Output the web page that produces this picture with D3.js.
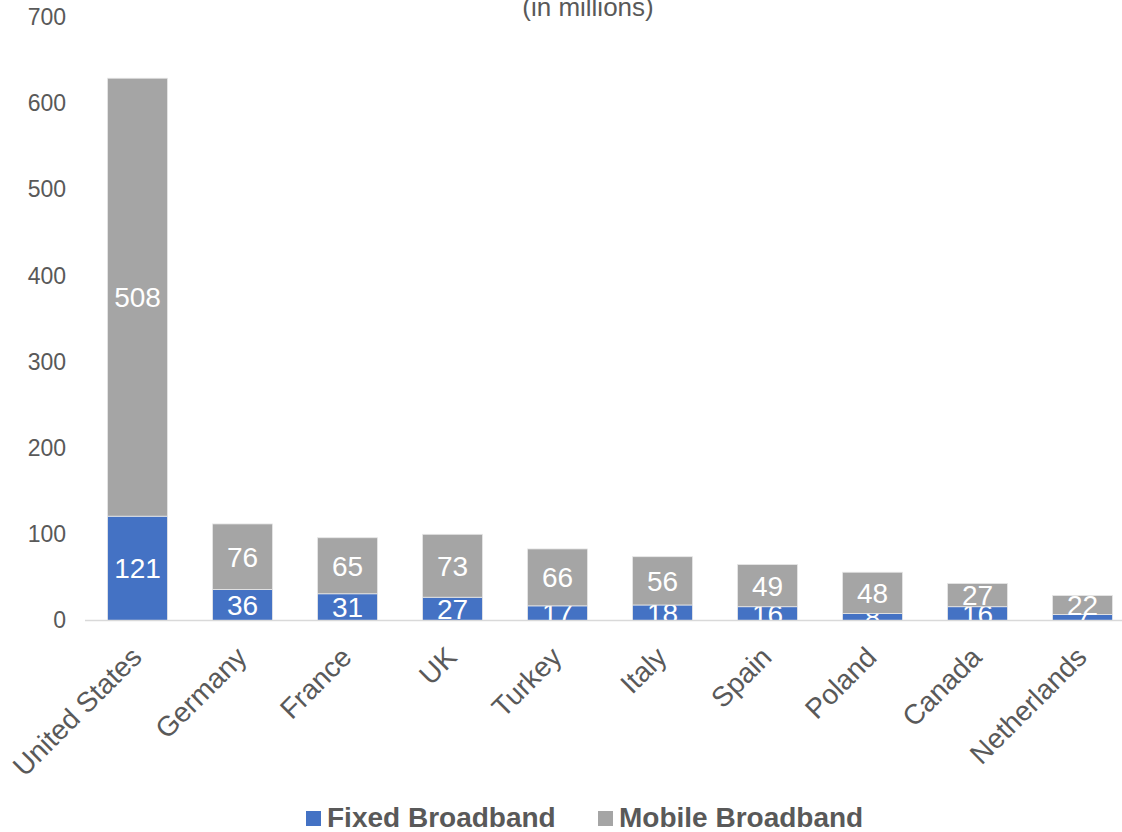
<!DOCTYPE html>
<html>
<head>
<meta charset="utf-8">
<script src="https://cdn.jsdelivr.net/npm/d3@7"></script>
<style>
  body { margin: 0; background: #fff; }
  text { font-family: "Liberation Sans", Arial, sans-serif; }
</style>
</head>
<body>
<script>
var countries = ['United States', 'Germany', 'France', 'UK', 'Turkey', 'Italy', 'Spain', 'Poland', 'Canada', 'Netherlands'];
var fixedBroadband = [121, 36, 31, 27, 17, 18, 16, 8, 16, 7];
var mobileBroadband = [508, 76, 65, 73, 66, 56, 49, 48, 27, 22];
var yTicks = [0, 100, 200, 300, 400, 500, 600, 700];
var seriesNames = ['Fixed Broadband', 'Mobile Broadband'];
var colors = ['#4472C4', '#A5A5A5'];

var width = 1122, height = 832;
var svg = d3.select('body').append('svg').attr('width', width).attr('height', height);

var x = d3.scaleBand().domain(countries).range([85, 1135]).paddingInner(0.4286).paddingOuter(0.2143);
var y = d3.scaleLinear().domain([0, 700]).range([620.5, 17]);

var rows = countries.map(function(c, i){ return {country: c, fixed: fixedBroadband[i], mobile: mobileBroadband[i]}; });
var stack = d3.stack().keys(['fixed', 'mobile'])(rows);

// title (partly cut off at top)
svg.append('text')
    .attr('x', 588).attr('y', 16)
    .attr('text-anchor', 'middle')
    .attr('font-size', 26)
    .attr('fill', '#595959')
    .text('(in millions)');

// y axis labels
var yAxis = svg.append('g').attr('transform', 'translate(66,0)')
    .call(d3.axisLeft(y).tickValues(yTicks).tickSize(0).tickPadding(0));
yAxis.select('.domain').remove();
yAxis.selectAll('text').attr('font-size', 23).attr('fill', '#595959')
    .attr('font-family', '"Liberation Sans", Arial, sans-serif');

// bars
var groups = svg.selectAll('g.series')
    .data(stack)
    .enter().append('g')
        .attr('class', 'series')
        .attr('fill', function(d, i){ return colors[i]; });

groups.selectAll('rect')
    .data(function(d){ return d; })
    .enter().append('rect')
        .attr('x', function(d){ return x(d.data.country); })
        .attr('y', function(d){ return y(d[1]); })
        .attr('width', x.bandwidth())
        .attr('height', function(d){ return y(d[0]) - y(d[1]); })
        .attr('stroke', '#e8e8e8')
        .attr('stroke-width', 0.8);

// x axis line
svg.append('line')
    .attr('x1', 85).attr('x2', width)
    .attr('y1', y(0)).attr('y2', y(0))
    .attr('stroke', '#D9D9D9').attr('stroke-width', 1.5);

// data labels
groups.selectAll('text')
    .data(function(d){ return d; })
    .enter().append('text')
        .attr('x', function(d){ return x(d.data.country) + x.bandwidth() / 2; })
        .attr('y', function(d){ return (y(d[0]) + y(d[1])) / 2; })
        .attr('dy', '0.36em')
        .attr('text-anchor', 'middle')
        .attr('font-size', 28)
        .attr('fill', '#fff')
        .text(function(d){ return d[1] - d[0]; });

// category labels
svg.append('g').selectAll('text')
    .data(countries)
    .enter().append('text')
        .attr('transform', function(d){ return 'translate(' + (x(d) + x.bandwidth() / 2 - 8) + ',' + 645 + ') rotate(-45)'; })
        .attr('text-anchor', 'end')
        .attr('dy', '0.7em')
        .attr('font-size', 28)
        .attr('fill', '#595959')
        .text(function(d){ return d; });

// legend
var legendX = [306, 598];
var legend = svg.append('g').selectAll('g')
    .data(seriesNames)
    .enter().append('g')
        .attr('transform', function(d, i){ return 'translate(' + legendX[i] + ',811)'; });
legend.append('rect')
    .attr('width', 15).attr('height', 15)
    .attr('fill', function(d, i){ return colors[i]; });
legend.append('text')
    .attr('x', 21).attr('y', 16)
    .attr('font-size', 28)
    .attr('font-weight', 'bold')
    .attr('fill', '#595959')
    .text(function(d){ return d; });
</script>
</body>
</html>
